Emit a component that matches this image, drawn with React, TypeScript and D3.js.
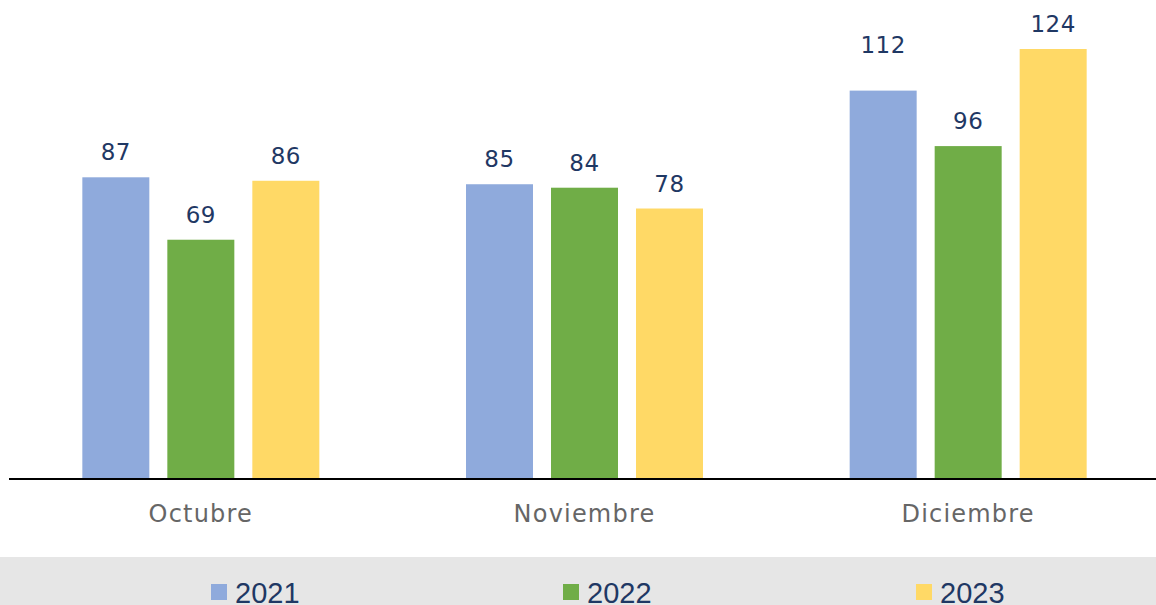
import React from "react";
import * as d3 from "d3";

const categories = ["Octubre", "Noviembre", "Diciembre"];
const seriesNames = ["2021", "2022", "2023"];
const values2021 = [87, 85, 112];
const values2022 = [69, 84, 96];
const values2023 = [86, 78, 124];
const colors = ["#8faadc", "#70ad47", "#ffd966"];

const W = 1156;
const H = 605;

export default function App() {
  const series = [values2021, values2022, values2023];

  const x0 = d3.scaleBand().domain(categories).range([9, 1160]).padding(0);
  const groupW = 237;
  const x1 = d3
    .scaleBand()
    .domain(seriesNames)
    .range([0, groupW])
    .paddingInner(18 / 85)
    .paddingOuter(0);
  const y = d3.scaleLinear().domain([0, 124]).range([479, 49]);

  // the 112 label sits higher in the original (moved by hand)
  const lift = (ci: number, si: number) => (ci === 2 && si === 0 ? 38 : 17);

  const legendX = [211, 563, 916];

  return (
    <svg
      width={W}
      height={H}
      style={{ position: "absolute", left: 0, top: 0, background: "#fff" }}
    >
      {categories.map((c, ci) => {
        const gx = x0(c)! + (x0.bandwidth() - groupW) / 2;
        return (
          <g key={c} transform={`translate(${gx},0)`}>
            {seriesNames.map((s, si) => {
              const v = series[si][ci];
              const bx = x1(s)!;
              return (
                <g key={s}>
                  <rect
                    x={bx}
                    y={y(v)}
                    width={x1.bandwidth()}
                    height={y(0) - y(v)}
                    fill={colors[si]}
                  />
                  <text
                    x={bx + x1.bandwidth() / 2}
                    y={y(v) - lift(ci, si)}
                    textAnchor="middle"
                    fontFamily="'DejaVu Sans', sans-serif"
                    fontSize={23}
                    letterSpacing={0.5}
                    fill="#1f3864"
                  >
                    {v}
                  </text>
                </g>
              );
            })}
          </g>
        );
      })}
      <line x1={9} x2={W} y1={479} y2={479} stroke="#000" strokeWidth={2} />
      {categories.map((c) => (
        <text
          key={c}
          x={x0(c)! + x0.bandwidth() / 2}
          y={522}
          textAnchor="middle"
          fontFamily="'DejaVu Sans', sans-serif"
          fontSize={24}
          letterSpacing={1.2}
          fill="#666666"
        >
          {c}
        </text>
      ))}
      <rect x={0} y={557} width={W} height={H - 557} fill="#e6e6e6" />
      {seriesNames.map((s, si) => (
        <g key={s} transform={`translate(${legendX[si]},0)`}>
          <rect x={0} y={584} width={16} height={16} fill={colors[si]} />
          <text
            x={24}
            y={603}
            fontFamily="'Liberation Sans', Arial, sans-serif"
            fontSize={29}
            fill="#1f3864"
          >
            {s}
          </text>
        </g>
      ))}
    </svg>
  );
}
